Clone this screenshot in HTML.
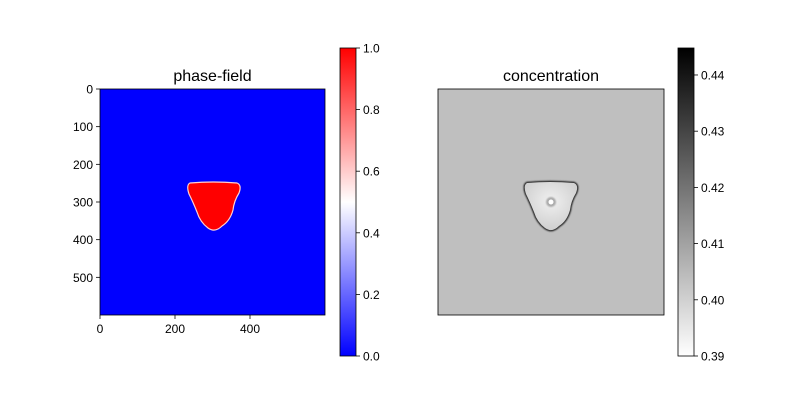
<!DOCTYPE html>
<html><head><meta charset="utf-8"><style>
body{margin:0;background:#fff;}
svg{display:block;font-family:"Liberation Sans","DejaVu Sans",sans-serif;}
</style></head><body>
<svg id="fig" width="800" height="400" viewBox="0 0 800 400">
<defs>
<linearGradient id="bwr" x1="0" y1="1" x2="0" y2="0">
<stop offset="0" stop-color="#0000ff"/><stop offset="0.5" stop-color="#ffffff"/><stop offset="1" stop-color="#ff0000"/>
</linearGradient>
<linearGradient id="gr" x1="0" y1="1" x2="0" y2="0">
<stop offset="0" stop-color="#ffffff"/><stop offset="1" stop-color="#000000"/>
</linearGradient>
<radialGradient id="inner" cx="0.5" cy="0.4" r="0.6">
<stop offset="0" stop-color="#f0f0f0"/><stop offset="1" stop-color="#cfcfcf"/>
</radialGradient>
<radialGradient id="dot"><stop offset="0" stop-color="#fff"/><stop offset="0.5" stop-color="#fff"/><stop offset="1" stop-color="#ddd" stop-opacity="0"/></radialGradient>
<filter id="bl"><feGaussianBlur stdDeviation="0.8"/></filter>
</defs>
<g id="g"></g>
</svg>
<script>
const xTicks=[0,200,400];
const yTicks=[0,100,200,300,400,500];
const cb1Ticks=[0.0,0.2,0.4,0.6,0.8,1.0];
const cb2Ticks=[0.39,0.40,0.41,0.42,0.43,0.44];
const cb1Range=[0,1];
const cb2Range=[0.39,0.4448];
const NS="http://www.w3.org/2000/svg";
const g=document.getElementById('g');
function mk(t,a,p){const e=document.createElementNS(NS,t);for(const k in a)e.setAttribute(k,a[k]);(p||g).appendChild(e);return e;}
const L={x:100,y:89,w:225,h:226},R={x:438,y:89,w:226,h:226};
const sx=v=>L.x+v/600*L.w, sy=v=>L.y+v/600*L.h;
// left image
let e=mk('rect',{x:L.x,y:L.y,width:L.w,height:L.h,fill:'#0000ff'});


const shape="M190,183 Q213,181 237,183 Q242,185 239,193 Q234,201 233,210 Q230,221 222,226 Q215,233 208,228 Q200,222 197,212 Q193,202 189,194 Q186,185 190,183 Z";
e=mk('path',{d:shape,fill:'#ff0000',stroke:'#ffd0d0','stroke-width':1.2});


mk('rect',{x:L.x,y:L.y,width:L.w,height:L.h,fill:'none',stroke:'#000','stroke-width':0.8});
e=mk('text',{x:L.x+L.w/2,y:81,'text-anchor':'middle','font-size':16});e.textContent='phase-field';


xTicks.forEach(v=>{const x=sx(v);mk('line',{x1:x,x2:x,y1:L.y+L.h,y2:L.y+L.h+4,stroke:'#000','stroke-width':0.8});
 const t=mk('text',{x:x,y:L.y+L.h+18,'text-anchor':'middle','font-size':12});t.textContent=v;
 
 });
yTicks.forEach(v=>{const y=sy(v);mk('line',{x1:L.x-4,x2:L.x,y1:y,y2:y,stroke:'#000','stroke-width':0.8});
 const t=mk('text',{x:L.x-7,y:y+4.5,'text-anchor':'end','font-size':12});t.textContent=v;
 
 });
// right image
e=mk('rect',{x:R.x,y:R.y,width:R.w,height:R.h,fill:'#bfbfbf'});


const gg=mk('g',{transform:'translate(337,0)'});
mk('path',{d:shape,fill:'#333',stroke:'#222','stroke-width':2.5,filter:'url(#bl)'},gg);
e=mk('path',{d:shape,fill:'url(#inner)'},gg);


mk('circle',{cx:551,cy:202,r:5,fill:'#aaa',filter:'url(#bl)'});
mk('circle',{cx:551,cy:202,r:2.5,fill:'#fff'});
mk('rect',{x:R.x,y:R.y,width:R.w,height:R.h,fill:'none',stroke:'#000','stroke-width':0.8});
e=mk('text',{x:R.x+R.w/2,y:81,'text-anchor':'middle','font-size':16});e.textContent='concentration';


// colorbars
function cbar(x,fill,ticks,rng,fmt,name){
 const y0=48,h=308;
 const r=mk('rect',{x:x,y:y0,width:16,height:h,fill:fill,stroke:'#000','stroke-width':0.8});
 
 
 ticks.forEach(v=>{const y=y0+h-(v-rng[0])/(rng[1]-rng[0])*h;
  mk('line',{x1:x+16,x2:x+20,y1:y,y2:y,stroke:'#000','stroke-width':0.8});
  const t=mk('text',{x:x+23,y:y+4.5,'font-size':12});t.textContent=v.toFixed(fmt);
  
  });
}
cbar(340,'url(#bwr)',cb1Ticks,cb1Range,1,'phase-field-colorbar');
cbar(678,'url(#gr)',cb2Ticks,cb2Range,2,'concentration-colorbar');
</script>
</body></html>
